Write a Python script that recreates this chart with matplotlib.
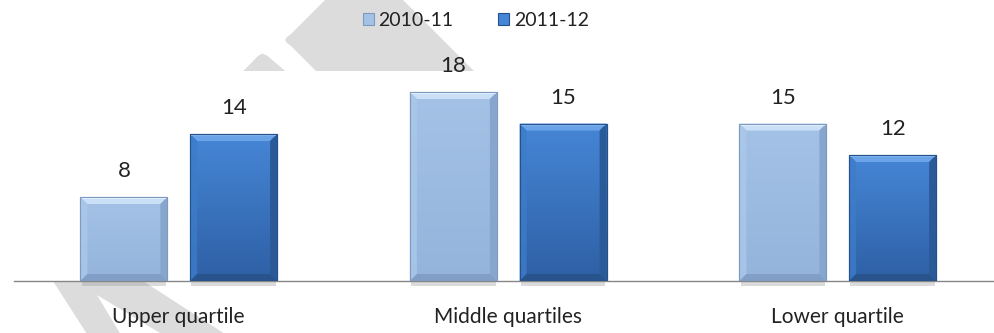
import numpy as np
import matplotlib
matplotlib.use("Agg")
import matplotlib.pyplot as plt
from matplotlib.patches import Polygon, Rectangle, Patch
from matplotlib.colors import LinearSegmentedColormap

# ---- data ----
categories = ["Upper quartile", "Middle quartiles", "Lower quartile"]
series_names = ["2010-11", "2011-12"]
values_2010_11 = [8, 18, 15]
values_2011_12 = [14, 15, 12]

W, H = 994, 333
fig = plt.figure(figsize=(W / 100, H / 100), dpi=100)
fig.patch.set_facecolor("white")

FONT = ["Lato", "DejaVu Sans"]
TXT = "#222222"

# ---- watermark (figure pixel coordinates, origin top-left) ----
def px(pts):
    return [(x / W, 1 - y / H) for x, y in pts]

wm = "#dcdcdc"
wm_shapes = [
    # top band with rounded end
    [(364, -39), (614, 211), (456, 211), (291, 46), (287, 43), (285, 40), (287, 37), (291, 34)],
    # hump
    [(215, 100), (258, 56), (262, 53.5), (267, 55.5), (319, 100)],
    # bottom-left double band
    [(53, 281), (143, 281), (242, 345), (180, 345), (97, 295), (127, 345), (94, 345)],
]
for s in wm_shapes:
    fig.patches.append(Polygon(px(s), closed=True, transform=fig.transFigure,
                               facecolor=wm, edgecolor="none", zorder=-10))

# ---- axes ----
left = 14 / W
bottom = (H - 281) / H
ax = fig.add_axes([left, bottom, 988.5 / W, 210 / H])
ax.set_facecolor("white")
ax.set_zorder(1)
ax.set_xlim(-0.5, 2.5)
ax.set_ylim(0, 20)
for sp in ["top", "right", "left"]:
    ax.spines[sp].set_visible(False)
ax.spines["bottom"].set_color("#868686")
ax.spines["bottom"].set_linewidth(1.0)
ax.set_yticks([])
x = np.arange(len(categories))
ax.set_xticks(x)
ax.set_xticklabels(categories, fontsize=15, family=FONT, color=TXT)
ax.tick_params(axis="x", length=0, pad=19)

bw = 0.264
off = 0.1665

styles = [
    dict(top="#a4c2e6", bot="#94b4db", edge="#7d9bc1", tb="#c9e0f7", lb="#abc8ea",
         rb="#86a6ce", bb="#809ec6", hl="#eef6ff"),
    dict(top="#4686d6", bot="#2e60a5", edge="#24508c", tb="#6aa3e8", lb="#3d7cc9",
         rb="#2b5a98", bb="#28538d", hl="#8cbcf2"),
]

bx = 7 / 329.5
by = 7 / 10.5

for i, (vals, st, name) in enumerate(zip([values_2010_11, values_2011_12], styles, series_names)):
    bars = ax.bar(x + (-off if i == 0 else off), vals, width=bw, color=st["top"],
                  edgecolor=st["edge"], linewidth=0.8, zorder=3, label=name)
    for b, v in zip(bars, vals):
        x0, y0 = b.get_x(), b.get_y()
        x1, y1 = x0 + b.get_width(), y0 + b.get_height()
        cmap = LinearSegmentedColormap.from_list("g", [st["bot"], st["top"]])
        grad = np.linspace(0, 1, 64).reshape(-1, 1)
        im = ax.imshow(grad, extent=[x0, x1, y0, y1], origin="lower", cmap=cmap,
                       aspect="auto", zorder=3.1, interpolation="bilinear")
        im.set_clip_path(b)
        # bevels
        ax.add_patch(Polygon([(x0, y1), (x1, y1), (x1 - bx, y1 - by), (x0 + bx, y1 - by)],
                             facecolor=st["tb"], edgecolor="none", zorder=3.2))
        ax.add_patch(Polygon([(x0, y0), (x0, y1), (x0 + bx, y1 - by), (x0 + bx, y0 + by)],
                             facecolor=st["lb"], edgecolor="none", zorder=3.2, alpha=0.8))
        ax.add_patch(Polygon([(x1, y0), (x1, y1), (x1 - bx, y1 - by), (x1 - bx, y0 + by)],
                             facecolor=st["rb"], edgecolor="none", zorder=3.2))
        ax.add_patch(Polygon([(x0, y0), (x1, y0), (x1 - bx, y0 + by), (x0 + bx, y0 + by)],
                             facecolor=st["bb"], edgecolor="none", zorder=3.2))
        ax.add_patch(Rectangle((x0 + 0.004, y1 - 0.2), x1 - x0 - 0.008, 0.12,
                               facecolor=st["hl"], edgecolor="none", zorder=3.3, alpha=0.8))
        ax.add_patch(Rectangle((x0, y0), x1 - x0, y1 - y0, facecolor="none",
                               edgecolor=st["edge"], linewidth=0.8, zorder=3.4))
        # shadow
        ax.add_patch(Rectangle((x0 + 0.004, y0 - 0.45), x1 - x0 - 0.008, 0.45,
                               facecolor="#9a9a9a", edgecolor="none", alpha=0.35,
                               zorder=2, clip_on=False))
        ax.annotate(f"{v}", (b.get_x() + b.get_width() / 2, y1), xytext=(0, 26),
                    textcoords="offset pixels", ha="center", va="center",
                    fontsize=16, family=FONT, color=TXT, annotation_clip=False)

handles = [Patch(facecolor=styles[0]["top"], edgecolor=styles[0]["edge"], linewidth=0.8),
           Patch(facecolor=styles[1]["top"], edgecolor=styles[1]["edge"], linewidth=0.8)]
leg = fig.legend(handles, series_names, loc="center", bbox_to_anchor=(476 / W, 1 - 20.5 / H),
                 ncol=2, frameon=False, prop={"family": FONT, "size": 14},
                 handlelength=0.55, handleheight=0.55, handletextpad=0.25,
                 columnspacing=2.3, borderpad=0, borderaxespad=0)
for t in leg.get_texts():
    t.set_color(TXT)

fig.savefig("out.png", dpi=100, facecolor="white")
